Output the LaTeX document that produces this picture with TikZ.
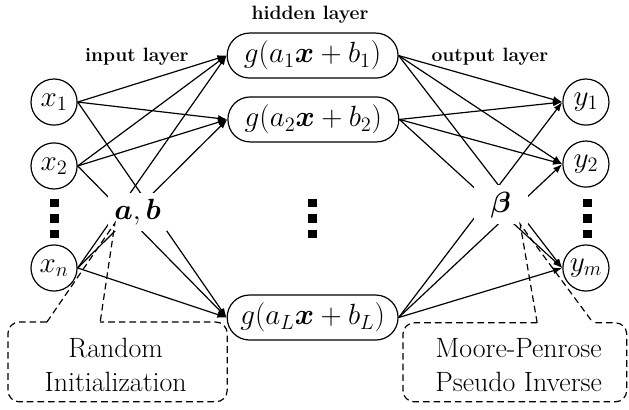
\RequirePackage{fix-cm}
\documentclass[tikz,border=0pt]{standalone}
\usepackage{amsmath,amssymb,bm}
\usepackage{fontspec}
\usetikzlibrary{arrows.meta}

\begin{document}
\begin{tikzpicture}[>={Latex[length=7pt,width=5pt]},line width=0.9pt,
  neuron/.style={circle,draw,minimum size=1.22cm,inner sep=0pt,font=\fontsize{22}{26}\selectfont},
  hidbox/.style={draw,rounded corners=0.59cm,minimum width=4.52cm,minimum height=1.19cm,inner sep=0pt,font=\fontsize{22}{26}\selectfont},
  layername/.style={font=\fontsize{14.5}{16}\selectfont\bfseries},
  paramlabel/.style={fill=white,inner sep=0pt,font=\fontsize{22}{26}\selectfont},
  notetext/.style={align=center,font=\fontsize{21}{26}\selectfont},
  notedash/.style={dash pattern=on 5pt off 3pt}]
\useasboundingbox (0,0) rectangle (16.64,10.82);
% input, hidden and output neurons
\node[neuron] (x1) at (1.43,8.12) {$x_1$};
\node[neuron] (x2) at (1.43,6.43) {$x_2$};
\node[neuron] (xn) at (1.43,3.73) {$x_n$};
\node[hidbox] (g1) at (8.27,9.35) {$g(a_1\bm{x}+b_1)$};
\node[hidbox] (g2) at (8.29,7.66) {$g(a_2\bm{x}+b_2)$};
\node[hidbox] (gL) at (8.27,2.42) {$g(a_L\bm{x}+b_L)$};
\node[neuron] (y1) at (15.50,8.12) {$y_1$};
\node[neuron] (y2) at (15.50,6.48) {$y_2$};
\node[neuron] (ym) at (15.50,3.73) {$y_m$};
\node[layername] (hid) at (8.20,10.42) {hidden layer};
\node[layername] (inp) at (3.62,9.31) {input layer};
\node[layername] (outp) at (12.96,9.31) {output layer};
% vertical dots
\foreach \px in {1.44,8.27,15.54}
  \foreach \py in {5.45,5.04,4.63}
    \fill (\px-0.115,\py-0.115) rectangle ++(0.23,0.23);
% full connections
\foreach \a in {x1,x2,xn}
  \foreach \b in {g1,g2,gL}
    \draw[->] (\a.east) -- (\b.west);
\foreach \a in {g1,g2,gL}
  \foreach \b in {y1,y2,ym}
    \draw[->] (\a.east) -- (\b.west);
% weights
\node[paramlabel,minimum width=1.56cm,minimum height=1.0cm] (ab) at (3.64,5.21) {$\bm{a},\bm{b}$};
\node[paramlabel,minimum width=1.43cm,minimum height=1.03cm] (beta) at (13.25,5.40) {$\bm{\beta}$};
% callouts
\coordinate (abtip) at (3.04,4.92);
\coordinate (betatip) at (13.76,4.89);
\node[notetext] (rand) at (3.06,1.16) {Random\\Initialization};
\node[notetext] (mp) at (13.72,1.16) {Moore-Penrose\\Pseudo Inverse};
\draw[notedash,rounded corners=0.3cm] (1.24,2.30) -- (0.21,2.30) -- (0.21,0.19) -- (6.01,0.19) -- (6.01,2.30) -- (2.65,2.30);
\draw[notedash] (1.24,2.30) -- (abtip) -- (2.65,2.30);
\draw[notedash,rounded corners=0.3cm] (14.21,2.28) -- (10.66,2.28) -- (10.66,0.19) -- (16.58,0.19) -- (16.58,2.28) -- (15.69,2.28);
\draw[notedash] (14.21,2.28) -- (betatip) -- (15.69,2.28);
\end{tikzpicture}
\end{document}
